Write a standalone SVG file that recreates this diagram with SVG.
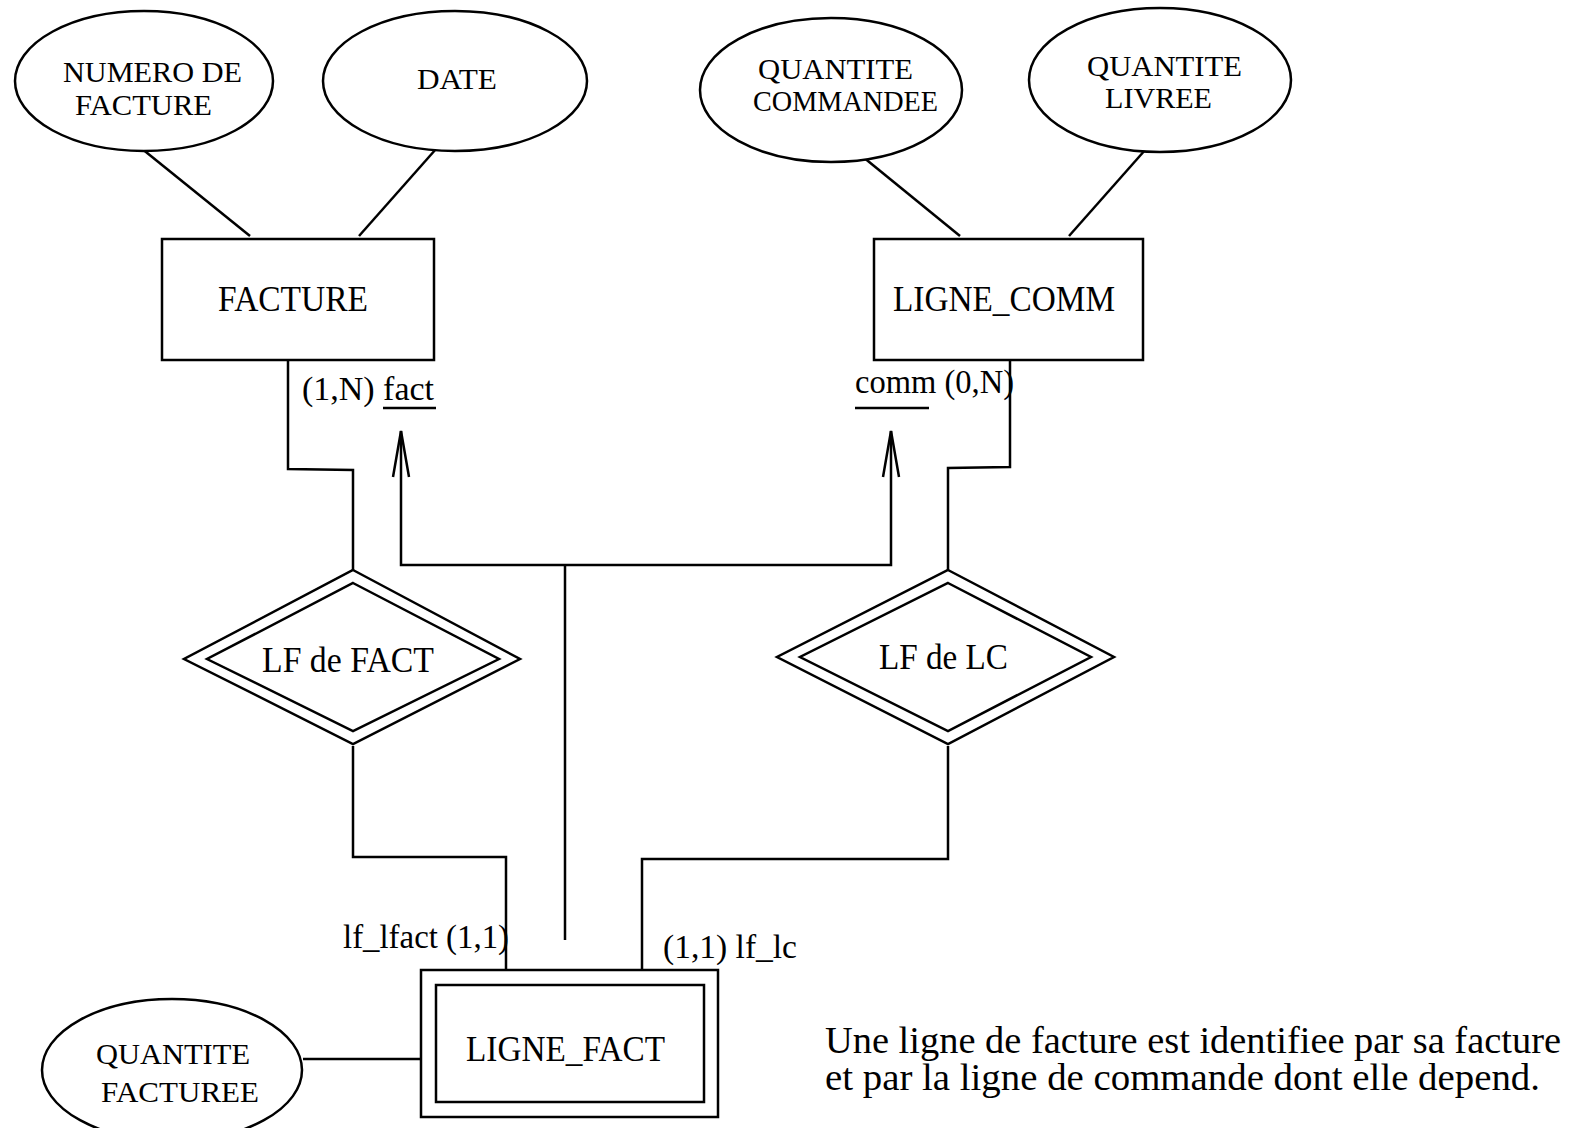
<svg xmlns="http://www.w3.org/2000/svg" width="1581" height="1128" viewBox="0 0 1581 1128">
  <style>
    .shape { fill: #fff; stroke: #000; stroke-width: 2.5; }
    .line { fill: none; stroke: #000; stroke-width: 2.5; }
    text { font-family: "Liberation Serif", "Times New Roman", serif; fill: #000; }
    .attr { font-size: 29px; }
    .ent { font-size: 36px; }
    .card { font-size: 33px; }
    .note { font-size: 37px; }
  </style>

  <!-- connectors -->
  <g id="connectors">
    <line class="line" x1="141" y1="148" x2="250" y2="236"/>
    <line class="line" x1="436" y1="149" x2="359" y2="236"/>
    <line class="line" x1="852" y1="148" x2="960" y2="236"/>
    <line class="line" x1="1146" y1="149" x2="1069" y2="236"/>
    <!-- FACTURE to LF de FACT -->
    <polyline class="line" points="288,360 288,469 353,470 353,570"/>
    <!-- LIGNE_COMM to LF de LC -->
    <polyline class="line" points="1010,360 1010,467 948,468 948,570"/>
    <!-- LF de FACT to LIGNE_FACT -->
    <polyline class="line" points="353,746 353,857 506,857 506,970"/>
    <!-- LF de LC to LIGNE_FACT -->
    <polyline class="line" points="948,746 948,859 642,859 642,970"/>
    <!-- identification arrows -->
    <polyline class="line" points="401,431 401,565 891,565 891,431"/>
    <polyline class="line" points="393,477 401,431 409,477"/>
    <polyline class="line" points="883,477 891,431 899,477"/>
    <line class="line" x1="565" y1="565" x2="565" y2="940"/>
    <!-- attribute of LIGNE_FACT -->
    <line class="line" x1="303" y1="1059" x2="424" y2="1059"/>
  </g>

  <!-- cardinality labels -->
  <g id="labels">
    <text class="card" x="302" y="400" textLength="132" lengthAdjust="spacingAndGlyphs">(1,N) fact</text>
    <line class="line" x1="383" y1="408" x2="436" y2="408"/>
    <text class="card" x="855" y="393" textLength="159" lengthAdjust="spacingAndGlyphs">comm (0,N)</text>
    <line class="line" x1="855" y1="408" x2="929" y2="408"/>
    <text class="card" x="343" y="948" textLength="166" lengthAdjust="spacingAndGlyphs">lf_lfact (1,1)</text>
    <text class="card" x="663" y="958" textLength="134" lengthAdjust="spacingAndGlyphs">(1,1) lf_lc</text>
  </g>

  <!-- attributes -->
  <g id="attr-numero">
    <ellipse class="shape" cx="144" cy="81" rx="129" ry="70"/>
    <text class="attr" x="63" y="82" textLength="179" lengthAdjust="spacingAndGlyphs">NUMERO DE</text>
    <text class="attr" x="75" y="115" textLength="137" lengthAdjust="spacingAndGlyphs">FACTURE</text>
  </g>
  <g id="attr-date">
    <ellipse class="shape" cx="455" cy="81" rx="132" ry="70"/>
    <text class="attr" x="417" y="89" textLength="80" lengthAdjust="spacingAndGlyphs">DATE</text>
  </g>
  <g id="attr-qte-commandee">
    <ellipse class="shape" cx="831" cy="90" rx="131" ry="72"/>
    <text class="attr" x="758" y="79" textLength="155" lengthAdjust="spacingAndGlyphs">QUANTITE</text>
    <text class="attr" x="753" y="111" textLength="185" lengthAdjust="spacingAndGlyphs">COMMANDEE</text>
  </g>
  <g id="attr-qte-livree">
    <ellipse class="shape" cx="1160" cy="80" rx="131" ry="72"/>
    <text class="attr" x="1087" y="76" textLength="155" lengthAdjust="spacingAndGlyphs">QUANTITE</text>
    <text class="attr" x="1105" y="108" textLength="107" lengthAdjust="spacingAndGlyphs">LIVREE</text>
  </g>
  <g id="attr-qte-facturee">
    <ellipse class="shape" cx="172" cy="1070" rx="130" ry="71"/>
    <text class="attr" x="96" y="1064" textLength="154" lengthAdjust="spacingAndGlyphs">QUANTITE</text>
    <text class="attr" x="101" y="1102" textLength="158" lengthAdjust="spacingAndGlyphs">FACTUREE</text>
  </g>

  <!-- entities -->
  <g id="facture">
    <rect class="shape" x="162" y="239" width="272" height="121"/>
    <text class="ent" x="218" y="311" textLength="150" lengthAdjust="spacingAndGlyphs">FACTURE</text>
  </g>
  <g id="ligne-comm">
    <rect class="shape" x="874" y="239" width="269" height="121"/>
    <text class="ent" x="893" y="311" textLength="222" lengthAdjust="spacingAndGlyphs">LIGNE_COMM</text>
  </g>
  <g id="ligne-fact">
    <rect class="shape" x="421" y="970" width="297" height="147"/>
    <rect class="shape" x="436" y="985" width="268" height="117"/>
    <text class="ent" x="466" y="1061" textLength="199" lengthAdjust="spacingAndGlyphs">LIGNE_FACT</text>
  </g>

  <!-- identifying relationships -->
  <g id="lf-de-fact">
    <polygon class="shape" points="353,570 520,659 353,744 184,659"/>
    <polygon class="shape" points="353,583 499,659 353,731 207,659"/>
    <text class="ent" x="262" y="672" textLength="172" lengthAdjust="spacingAndGlyphs">LF de FACT</text>
  </g>
  <g id="lf-de-lc">
    <polygon class="shape" points="948,570 1114,657 948,744 777,657"/>
    <polygon class="shape" points="948,583 1091,657 948,731 800,657"/>
    <text class="ent" x="879" y="669" textLength="129" lengthAdjust="spacingAndGlyphs">LF de LC</text>
  </g>

  <!-- note -->
  <g id="note">
    <text class="note" x="825" y="1053" textLength="736" lengthAdjust="spacingAndGlyphs">Une ligne de facture est identifiee par sa facture</text>
    <text class="note" x="825" y="1090" textLength="715" lengthAdjust="spacingAndGlyphs">et par la ligne de commande dont elle depend.</text>
  </g>
</svg>
